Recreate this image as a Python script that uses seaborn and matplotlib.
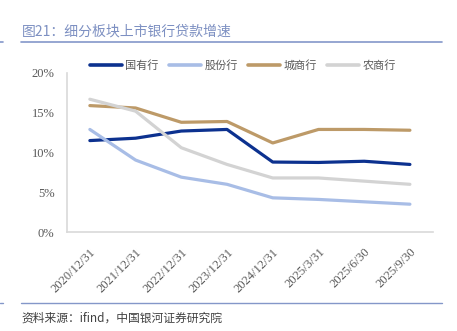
import matplotlib
matplotlib.use("Agg")
import matplotlib.pyplot as plt
import seaborn as sns
import pandas as pd
from matplotlib.lines import Line2D
from matplotlib.ticker import FuncFormatter

dates = ["2020/12/31", "2021/12/31", "2022/12/31", "2023/12/31",
         "2024/12/31", "2025/3/31", "2025/6/30", "2025/9/30"]
series_names = ["国有行", "股份行", "城商行", "农商行"]
guoyou = [11.5, 11.8, 12.7, 12.9, 8.8, 8.75, 8.9, 8.5]
gufen = [12.9, 9.05, 6.9, 6.0, 4.3, 4.1, 3.8, 3.5]
chengshang = [15.9, 15.6, 13.8, 13.9, 11.2, 12.9, 12.9, 12.8]
nongshang = [16.7, 15.2, 10.6, 8.5, 6.8, 6.8, 6.4, 6.0]
yticks = [0, 5, 10, 15, 20]
colors = ["#0c318f", "#a8bde6", "#bd9a68", "#d3d3d3"]

title = "图21：细分板块上市银行贷款增速"
source = "资料来源：ifind，中国银河证券研究院"

sns.set_theme(style="white")
plt.rcParams["font.family"] = ["Liberation Serif", "Noto Sans CJK SC", "DejaVu Sans"]

rows = []
for name, vals in zip(series_names, [guoyou, gufen, chengshang, nongshang]):
    for i, (d, v) in enumerate(zip(dates, vals)):
        rows.append({"idx": i, "date": d, "series": name, "value": v / 100})
df = pd.DataFrame(rows)

fig = plt.figure(figsize=(4.57, 3.31), dpi=100)
ax = fig.add_axes([0.1466, 0.299, 0.8004, 0.4805])
sns.lineplot(data=df, x="idx", y="value", hue="series", hue_order=series_names,
             palette=colors, linewidth=2.3, ax=ax, legend=False, sort=False)

ax.set_xlim(-0.5, len(dates) - 0.5)
ax.set_ylim(0, 0.2)
ax.set_yticks([t / 100 for t in yticks])
ax.yaxis.set_major_formatter(FuncFormatter(lambda v, p: f"{v*100:.0f}%"))
ax.set_xticks(range(len(dates)))
ax.set_xticklabels(dates, rotation=45, ha="right", rotation_mode="anchor")
ax.tick_params(axis="both", labelsize=9, colors="#595959", length=0)
ax.tick_params(axis="y", pad=9)
ax.tick_params(axis="x", pad=10)
ax.set_xlabel("")
ax.set_ylabel("")
for s in ["top", "right"]:
    ax.spines[s].set_visible(False)
for s in ["left", "bottom"]:
    ax.spines[s].set_color("#d9d9d9")
    ax.spines[s].set_linewidth(1.2)

handles = [Line2D([0], [0], color=c, lw=2.6) for c in colors]
leg = fig.legend(handles, series_names, loc="center", bbox_to_anchor=(0.531, 0.803),
                 ncol=4, frameon=False, handlelength=2.9,
                 columnspacing=0.9, handletextpad=0.3,
                 prop={"family": ["Noto Sans CJK SC"], "size": 8})
for t in leg.get_texts():
    t.set_color("#595959")

fig.text(0.047, 0.905, title, fontsize=10, color="#7d90c2",
         family=["Noto Sans CJK SC"], va="center")
fig.add_artist(Line2D([0.046, 0.967], [0.872, 0.872], color="#8497c9", lw=1.2))
fig.add_artist(Line2D([0.0, 0.006], [0.872, 0.872], color="#8497c9", lw=1.2))
fig.add_artist(Line2D([0.046, 0.967], [0.085, 0.085], color="#8497c9", lw=1.0))
fig.add_artist(Line2D([0.0, 0.006], [0.085, 0.085], color="#8497c9", lw=1.0))
fig.text(0.048, 0.04, source, fontsize=8.5, color="#404040", style="italic",
         family=["Noto Sans CJK SC"], va="center")

fig.savefig("out.png", dpi=100)
